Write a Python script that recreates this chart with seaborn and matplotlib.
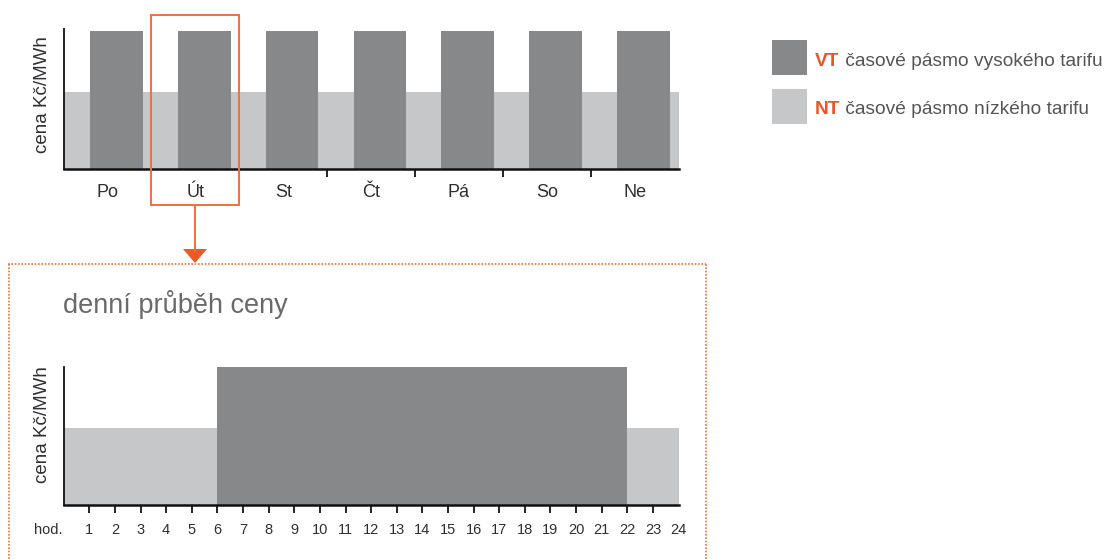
import numpy as np
import pandas as pd
import matplotlib
matplotlib.use("Agg")
import matplotlib.pyplot as plt
from matplotlib.patches import Rectangle, Polygon
from matplotlib.lines import Line2D
from matplotlib import transforms
import seaborn as sns

# ---- data ---------------------------------------------------------------
days = ["Po", "Út", "St", "Čt", "Pá", "So", "Ne"]
week_vt_price = [100, 100, 100, 100, 100, 100, 100]
week_nt_price = [56, 56, 56, 56, 56, 56, 56]

hours = list(range(1, 25))
hour_tariff = ["NT"] * 6 + ["VT"] * 16 + ["NT"] * 2
tariff_price = {"VT": 100, "NT": 56}

legend_codes = ["VT", "NT"]
legend_texts = ["časové pásmo vysokého tarifu", "časové pásmo nízkého tarifu"]

price_label = "cena Kč/MWh"
detail_title = "denní průběh ceny"
hour_label = "hod."

# ---- style --------------------------------------------------------------
VT_COLOR = "#878889"
NT_COLOR = "#c6c7c9"
ORANGE = "#f0703c"
ORANGE_TEXT = "#ec5525"
TEXT_DARK = "#2f2f33"
TEXT_GRAY = "#555558"

sns.set_theme(style="ticks")
plt.rcParams["font.family"] = ["Liberation Sans", "DejaVu Sans"]

W, H = 1119, 559
fig = plt.figure(figsize=(W / 100, H / 100), dpi=100)
fig.patch.set_facecolor("white")


def px_rect(x0, y_top, x1, y_bottom):
    return [x0 / W, 1 - y_bottom / H, (x1 - x0) / W, (y_bottom - y_top) / H]


def style_axes(ax):
    ax.set_facecolor("white")
    for side in ("top", "right"):
        ax.spines[side].set_visible(False)
    ax.spines["left"].set_linewidth(1.3)
    ax.spines["bottom"].set_linewidth(1.8)
    ax.spines["left"].set_color("#111111")
    ax.spines["bottom"].set_color("#111111")
    ax.set_yticks([])
    ax.set_xlabel("")
    ax.set_ylabel("")


def solid_blocks(ax):
    # adjacent bars of one tariff read as a single block
    for p in ax.patches:
        p.set_linewidth(0)
        p.set_antialiased(False)


# ---- weekly overview ----------------------------------------------------
ax_top = fig.add_axes(px_rect(63.7, 29.3, 678.6, 169))
week = pd.DataFrame({"den": days, "VT": week_vt_price, "NT": week_nt_price})
day_idx = np.arange(len(days))

# low tariff band: one full-width block per day
sns.barplot(x=day_idx + 0.5, y=week["NT"], native_scale=True, width=1.0,
            color=NT_COLOR, saturation=1, errorbar=None, ax=ax_top)
# high tariff block inside each day
sns.barplot(x=day_idx + 0.6, y=week["VT"], native_scale=True, width=0.6,
            color=VT_COLOR, saturation=1, errorbar=None, ax=ax_top)
solid_blocks(ax_top)

style_axes(ax_top)
ax_top.set_xlim(0, len(days))
ax_top.set_ylim(0, 101)
ax_top.set_xticks([3, 4, 5, 6])
ax_top.set_xticklabels([])
ax_top.set_xticks(day_idx + 0.5, minor=True)
ax_top.set_xticklabels(days, minor=True, fontsize=13, color=TEXT_DARK)
ax_top.tick_params(axis="x", which="major", length=6, width=1.3,
                   color="#111111", direction="out")
ax_top.tick_params(axis="x", which="minor", length=0, pad=11)
ax_top.text(-0.0345, 0.535, price_label, transform=ax_top.transAxes,
            rotation=90, ha="center", va="center", fontsize=13.5,
            color=TEXT_DARK)

# ---- daily detail -------------------------------------------------------
ax_bot = fig.add_axes(px_rect(63.7, 367, 678.6, 505))
day = pd.DataFrame({"hod": hours, "tarif": hour_tariff})
day["cena"] = day["tarif"].map(tariff_price)
day["stred"] = day["hod"] - 0.5

sns.barplot(data=day, x="stred", y="cena", hue="tarif",
            palette={"VT": VT_COLOR, "NT": NT_COLOR}, native_scale=True,
            width=1.0, saturation=1, errorbar=None, dodge=False,
            legend=False, ax=ax_bot)
solid_blocks(ax_bot)

style_axes(ax_bot)
ax_bot.set_xlim(0, 24)
ax_bot.set_ylim(0, 100)
ax_bot.set_xticks(hours)
ax_bot.set_xticklabels([str(h) for h in hours], fontsize=10.5, color=TEXT_DARK)
ax_bot.tick_params(axis="x", length=6, width=1.3, color="#111111", pad=7)
ax_bot.xaxis.get_major_ticks()[-1].tick1line.set_visible(False)
hod_tf = transforms.offset_copy(ax_bot.get_xaxis_transform(), fig=fig,
                                x=0, y=-13, units="points")
ax_bot.text(-0.62, 0, hour_label, transform=hod_tf, ha="center", va="top",
            fontsize=10.5, color=TEXT_DARK)
ax_bot.text(-0.034, 0.58, price_label, transform=ax_bot.transAxes,
            rotation=90, ha="center", va="center", fontsize=13.5,
            color=TEXT_DARK)

# ---- overlay: highlight, arrow, detail frame, legend -------------------
ov = fig.add_axes([0, 0, 1, 1], zorder=10)
ov.set_xlim(0, W)
ov.set_ylim(H, 0)
ov.axis("off")
ov.patch.set_alpha(0)

ov.add_patch(Rectangle((150.7, 15), 88, 190, fill=False, edgecolor=ORANGE,
                       linewidth=1.4))
ov.add_line(Line2D([194.7, 194.7], [205, 251], color=ORANGE, linewidth=1.4))
ov.add_patch(Polygon([[183, 249], [207, 249], [195, 263]], closed=True,
                     facecolor="#ea5a22", edgecolor="none"))
frame_style = dict(color=ORANGE, linewidth=1.2, linestyle=(0, (1, 1)))
ov.add_line(Line2D([8, 706], [263.5, 263.5], **frame_style))
ov.add_line(Line2D([8.5, 8.5], [263.5, 560], **frame_style))
ov.add_line(Line2D([705.5, 705.5], [263.5, 560], **frame_style))

ov.text(63, 313, detail_title, fontsize=19.5, color="#6a6a6c", va="baseline")

legend_colors = [VT_COLOR, NT_COLOR]
legend_tops = [40, 89]
for code, txt, col, top in zip(legend_codes, legend_texts, legend_colors,
                               legend_tops):
    ov.add_patch(Rectangle((772, top), 35, 35, facecolor=col,
                           edgecolor="none"))
    t_code = ov.text(815, top + 25.5, code, fontsize=13.8, fontweight="bold",
                     color=ORANGE_TEXT, va="baseline")
    ov.annotate(" " + txt, xy=(1, 0), xycoords=t_code, xytext=(0, 0),
                textcoords="offset points", fontsize=13.8, color=TEXT_GRAY,
                va="bottom")

fig.savefig("out.png", dpi=100)
